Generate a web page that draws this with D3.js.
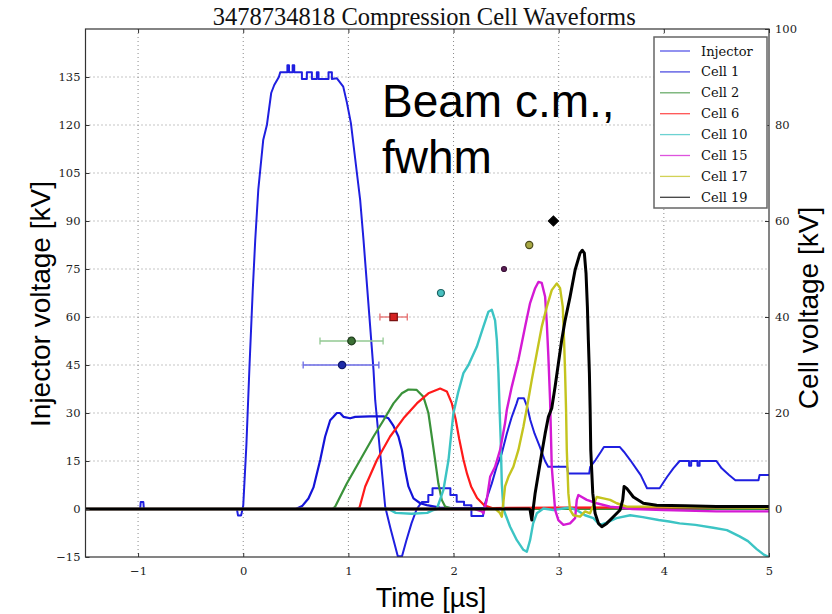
<!DOCTYPE html>
<html>
<head>
<meta charset="utf-8">
<script src="https://cdn.jsdelivr.net/npm/d3@7"></script>
<style>
    body { margin: 0; background: #fff; }
</style>
</head>
<body>
<svg id="chart" width="832" height="614"></svg>
<script>
// time in us, injector in kV (left axis), cells in kV (right axis)
const injector = [
    [-1.5, 0], [-0.98, 0], [-0.975, 2.2], [-0.95, 2.2], [-0.945, 0],
    [-0.06, 0], [-0.05, -2], [-0.02, -2], [0.0, 1], [0.03, 20], [0.06, 45], [0.09, 68], [0.114, 84],
    [0.143, 99.7], [0.19, 115.3], [0.225, 120], [0.266, 130], [0.295, 132.5], [0.339, 135], [0.352, 136.5],
    [0.42, 136.5], [0.42, 138.7], [0.435, 138.7], [0.435, 136.5], [0.47, 136.5], [0.47, 138.7], [0.485, 138.7], [0.485, 136.5],
    [0.558, 136.5], [0.558, 134.4], [0.605, 134.4], [0.605, 136.5], [0.653, 136.5], [0.653, 134.4], [0.70, 134.4], [0.70, 136.5],
    [0.716, 136.5], [0.716, 134.4], [0.811, 134.4], [0.811, 136.5], [0.843, 136.5], [0.843, 134.4], [0.891, 134.6],
    [0.951, 132], [0.986, 127], [1.024, 120.6], [1.081, 105], [1.112, 96.6], [1.144, 84], [1.239, 43.4], [1.255, 34], [1.35, 0.7],
    [1.40, -6], [1.44, -11], [1.47, -14.8], [1.51, -14.8], [1.55, -10], [1.60, -4.5], [1.65, 0],
    [1.70, 2.2], [1.76, 2.2], [1.76, 4.4], [1.80, 4.4], [1.80, 6.5], [1.97, 6.5], [1.97, 4.4], [2.03, 4.4], [2.03, 2.3],
    [2.10, 2.3], [2.10, 1.2], [2.17, 1.2], [2.17, -2.2], [2.28, -2.2], [2.30, 1.8], [2.364, 8], [2.41, 13.2], [2.459, 17.4],
    [2.507, 23.6], [2.554, 28.8], [2.60, 33], [2.615, 34.6], [2.67, 34.6], [2.70, 32], [2.73, 27.8], [2.77, 23.6], [2.82, 19.5],
    [2.87, 15], [2.90, 13.2], [3.08, 13.2], [3.09, 11.1], [3.29, 11.1], [3.30, 13.2], [3.35, 15.3], [3.40, 17.8], [3.43, 19.4],
    [3.58, 19.4], [3.62, 17.9], [3.68, 15.3], [3.75, 12], [3.78, 10.6], [3.84, 6.5], [3.96, 6.5], [4.00, 8.5], [4.03, 10],
    [4.09, 12.7], [4.15, 15], [4.24, 15], [4.24, 13.5], [4.26, 13.5], [4.26, 15], [4.32, 15], [4.32, 13.5], [4.34, 13.5],
    [4.34, 15], [4.50, 15], [4.55, 12.7], [4.62, 10.6], [4.68, 9], [4.90, 9], [4.91, 10.6], [5.0, 10.6]
];

const cell1 = [
    [-1.5, 0], [0.50, 0], [0.56, 0.6], [0.62, 2.2], [0.668, 4.5], [0.732, 10.2], [0.779, 15.1], [0.827, 18.5], [0.858, 19.2],
    [0.89, 20], [0.92, 20], [0.953, 19.2], [1.017, 18.9], [1.065, 19.2], [1.207, 19.3], [1.334, 19.3], [1.381, 18.9],
    [1.429, 17.3], [1.476, 15.1], [1.509, 12.3], [1.54, 8.1], [1.571, 4.7], [1.619, 2.2], [1.683, 1.2], [1.746, 0.8],
    [1.87, 0.3], [2.0, 0.2], [5.0, 0.1]
];

const cell2 = [
    [-1.5, 0], [0.85, 0], [0.875, 0.5], [0.985, 5.3], [1.112, 10.2], [1.239, 15.1], [1.334, 18.5], [1.429, 22],
    [1.509, 24.1], [1.571, 24.9], [1.65, 24.8], [1.713, 23.4], [1.761, 20], [1.793, 15.1], [1.825, 10.2], [1.856, 5.3],
    [1.888, 1.9], [1.92, 0.5], [2.0, 0], [5.0, 0]
];

const cell6 = [
    [-1.5, 0], [1.08, 0], [1.106, 0.3], [1.16, 4.7], [1.271, 10.2], [1.397, 15.1], [1.524, 18.9], [1.651, 22],
    [1.761, 24.1], [1.873, 25.1], [1.936, 24.5], [1.984, 22], [2.02, 18.7], [2.053, 14.7], [2.094, 10.3], [2.129, 7.3],
    [2.167, 4.7], [2.224, 2.3], [2.291, 0.8], [2.367, 0.2], [3.0, 0.3], [5.0, 0.4]
];

const cell10 = [
    [-1.5, 0], [1.38, 0], [1.45, -0.8], [1.6, -1], [1.75, -0.8], [1.80, -0.3], [1.841, 0], [1.904, 4], [1.952, 10.2],
    [1.999, 20], [2.044, 24.3], [2.094, 28.3], [2.142, 30], [2.221, 33.8], [2.284, 38], [2.332, 41.1], [2.364, 41.5],
    [2.395, 39.3], [2.412, 35.2], [2.427, 28.3], [2.438, 20.7], [2.448, 14.7], [2.459, 5.3], [2.474, 0], [2.538, -3.7],
    [2.602, -6.5], [2.664, -8.5], [2.697, -8.9], [2.728, -6.5], [2.757, -3], [2.792, -0.9], [2.855, 0.1], [2.95, -0.2],
    [3.10, 0.3], [3.17, -0.2], [3.25, -1.3], [3.33, -1.9], [3.39, -3.3], [3.45, -2.9], [3.55, -1.9], [3.68, -1.3],
    [3.80, -1.7], [3.95, -2.3], [4.05, -2.6], [4.15, -3], [4.30, -3.3], [4.47, -3.9], [4.60, -4.4], [4.72, -5.7],
    [4.80, -6.7], [4.88, -8.3], [4.95, -9.5], [5.0, -10]
];

const cell15 = [
    [-1.5, 0], [2.20, 0], [2.27, -0.5], [2.284, -0.9], [2.316, 1.9], [2.348, 6.7], [2.395, 8.8], [2.443, 12.3],
    [2.49, 17.9], [2.507, 20.7], [2.554, 25.5], [2.617, 31.1], [2.681, 38], [2.728, 42.9], [2.776, 46], [2.807, 47.3],
    [2.839, 47.1], [2.871, 44.2], [2.887, 38.7], [2.902, 31.7], [2.918, 22.7], [2.934, 8.8], [2.966, -0.2], [2.997, -2.3],
    [3.045, -3.3], [3.108, -3], [3.156, -1.9], [3.172, 1.9], [3.187, 2.9], [3.267, 1.9], [3.362, 1.2], [3.489, 0.5],
    [3.7, 0], [4.0, -0.2], [4.5, -0.5], [5.0, -0.5]
];

const cell17 = [
    [-1.5, 0], [2.40, 0], [2.44, -0.8], [2.459, -1.6], [2.49, 4.7], [2.522, 6.7], [2.569, 8.8], [2.617, 12.3],
    [2.664, 17.1], [2.697, 21], [2.744, 26.9], [2.792, 32.5], [2.839, 38], [2.887, 42.1], [2.934, 45.6], [2.982, 47],
    [3.013, 46], [3.039, 42.1], [3.051, 35.2], [3.061, 28.3], [3.07, 20.7], [3.077, 12.3], [3.092, 3.3], [3.108, -0.2],
    [3.14, -1.3], [3.203, -1.6], [3.251, -0.5], [3.298, -0.9], [3.362, 2.5], [3.425, 2.2], [3.489, 1.9], [3.552, 1.2],
    [3.647, 0.5], [4.0, 0.5], [5.0, 0.3]
];

const cell19 = [
    [-1.5, 0], [2.72, 0], [2.728, -0.2], [2.744, -2.3], [2.776, 3.3], [2.807, 7.4], [2.839, 11.6], [2.871, 15.7],
    [2.902, 19.2], [2.934, 21], [2.966, 25.5], [2.997, 30.3], [3.029, 35.2], [3.061, 39.3], [3.108, 44.2], [3.156, 49.8],
    [3.203, 53.3], [3.225, 53.9], [3.244, 53.3], [3.26, 49.1], [3.273, 42.1], [3.282, 35.2], [3.292, 28.3], [3.299, 20.7],
    [3.305, 12.3], [3.324, 3.3], [3.346, -0.9], [3.378, -3], [3.41, -3.7], [3.457, -3], [3.52, -1.6], [3.584, -0.2],
    [3.609, 1.9], [3.622, 4.7], [3.647, 4.3], [3.71, 2.5], [3.805, 1.2], [3.932, 0.8], [4.2, 0.7], [4.5, 0.5], [5.0, 0.5]
];

// beam centre of mass and fwhm (left axis level)
const beamNames = ["Cell 1", "Cell 2", "Cell 6", "Cell 10", "Cell 15", "Cell 17", "Cell 19"];
const beamCM = [0.94, 1.03, 1.43, 1.88, 2.48, 2.72, 2.95];
const beamLo = [0.57, 0.73, 1.30, 1.88, 2.48, 2.72, 2.95];
const beamHi = [1.29, 1.33, 1.56, 1.88, 2.48, 2.72, 2.95];
const beamLevel = [45, 52.5, 60, 67.5, 75, 82.5, 90];

const xTicks = [-1, 0, 1, 2, 3, 4, 5];
const leftTicks = [-15, 0, 15, 30, 45, 60, 75, 90, 105, 120, 135];
const rightTicks = [0, 20, 40, 60, 80, 100];

const series = [
    { name: "Injector", data: injector, color: "#1f1fe0", width: 2, axis: "left" },
    { name: "Cell 1", data: cell1, color: "#1414d8", width: 2.2, axis: "right" },
    { name: "Cell 2", data: cell2, color: "#3a923a", width: 2.2, axis: "right" },
    { name: "Cell 6", data: cell6, color: "#ff1a1a", width: 2.2, axis: "right" },
    { name: "Cell 10", data: cell10, color: "#3cc4c4", width: 2.4, axis: "right" },
    { name: "Cell 15", data: cell15, color: "#d41ad4", width: 2.4, axis: "right" },
    { name: "Cell 17", data: cell17, color: "#c4c41e", width: 2.4, axis: "right" },
    { name: "Cell 19", data: cell19, color: "#000000", width: 3, axis: "right" }
];

const markerStyle = [
    { shape: d3.symbolCircle, size: 42, fill: "#1c2aa8", stroke: "#10186a", bar: "#6a6ae6" },
    { shape: d3.symbolCircle, size: 45, fill: "#3b6f34", stroke: "#1f3d1c", bar: "#92c892" },
    { shape: d3.symbolSquare, size: 55, fill: "#d42020", stroke: "#7a1010", bar: "#e87070" },
    { shape: d3.symbolCircle, size: 38, fill: "#48c0c0", stroke: "#1d6262", bar: "#80d0d0" },
    { shape: d3.symbolCircle, size: 20, fill: "#5c2058", stroke: "#3a1036", bar: "#d080d0" },
    { shape: d3.symbolCircle, size: 40, fill: "#a8a844", stroke: "#4a4a1a", bar: "#d0d080" },
    { shape: d3.symbolSquare, size: 50, fill: "#000000", stroke: "#000000", bar: "#555", rotate: 45 }
];

const svg = d3.select("#chart");
const plotLeft = 85.5, plotRight = 769, plotTop = 29, plotBottom = 557;

const x = d3.scaleLinear().domain([-1.5, 5]).range([plotLeft, plotRight]);
const yL = d3.scaleLinear().domain([-15, 150]).range([plotBottom, plotTop]);
const yR = d3.scaleLinear().domain([-10, 100]).range([plotBottom, plotTop]);

svg.append("defs").append("clipPath").attr("id", "plotclip")
    .append("rect")
    .attr("x", plotLeft).attr("y", plotTop)
    .attr("width", plotRight - plotLeft).attr("height", plotBottom - plotTop);

// Title
svg.append("text")
    .attr("x", (plotLeft + plotRight) / 2 - 3)
    .attr("y", 25)
    .attr("text-anchor", "middle")
    .style("font-family", "'Liberation Serif', serif")
    .style("font-size", "24.5px")
    .style("fill", "#111")
    .text("3478734818 Compression Cell Waveforms");

// Grid
const grid = svg.append("g").attr("stroke", "#8a8a8a").attr("stroke-width", 1).attr("stroke-dasharray", "1,3");
grid.selectAll(".gx").data(xTicks.filter(t => t < 5)).enter().append("line")
    .attr("x1", d => x(d)).attr("x2", d => x(d))
    .attr("y1", plotTop).attr("y2", plotBottom);
grid.selectAll(".gy").data(leftTicks.filter(t => t > -15)).enter().append("line")
    .attr("x1", plotLeft).attr("x2", plotRight)
    .attr("y1", d => yL(d)).attr("y2", d => yL(d));

// Waveforms
const plot = svg.append("g").attr("clip-path", "url(#plotclip)");
series.forEach(s => {
    const yScale = s.axis === "left" ? yL : yR;
    plot.append("path")
        .datum(s.data)
        .attr("fill", "none")
        .attr("stroke", s.color)
        .attr("stroke-width", s.width)
        .attr("stroke-linejoin", "round")
        .attr("d", d3.line().x(d => x(d[0])).y(d => yScale(d[1])));
});

// Beam c.m. markers with fwhm bars
const beam = plot.selectAll(".beam")
    .data(beamCM.map((c, i) => ({ name: beamNames[i], cm: c, lo: beamLo[i], hi: beamHi[i], lev: beamLevel[i], st: markerStyle[i] })))
    .enter().append("g")
    .attr("class", "beam");

beam.filter(d => d.hi > d.lo).append("line")
    .attr("x1", d => x(d.lo)).attr("x2", d => x(d.hi))
    .attr("y1", d => yL(d.lev)).attr("y2", d => yL(d.lev))
    .attr("stroke", d => d.st.bar).attr("stroke-width", 1.3);
beam.filter(d => d.hi > d.lo).selectAll(".cap")
    .data(d => [d.lo, d.hi].map(v => ({ v: v, lev: d.lev, st: d.st })))
    .enter().append("line")
    .attr("x1", d => x(d.v)).attr("x2", d => x(d.v))
    .attr("y1", d => yL(d.lev) - 3.5).attr("y2", d => yL(d.lev) + 3.5)
    .attr("stroke", d => d.st.bar).attr("stroke-width", 1.3);
beam.append("path")
    .attr("transform", d => `translate(${x(d.cm)},${yL(d.lev)}) rotate(${d.st.rotate || 0})`)
    .attr("d", d => d3.symbol().type(d.st.shape).size(d.st.size)())
    .attr("fill", d => d.st.fill)
    .attr("stroke", d => d.st.stroke)
    .attr("stroke-width", 1.2);

// Axes (ticks pointing inward)
const fmt = d3.format("d");
svg.append("g")
    .attr("transform", `translate(0,${plotBottom})`)
    .call(d3.axisBottom(x).tickValues(xTicks).tickFormat(fmt).tickSize(-4).tickPadding(10))
    .call(g => g.select(".domain").remove());
svg.append("g")
    .attr("transform", `translate(0,${plotTop})`)
    .call(d3.axisTop(x).tickValues(xTicks).tickFormat("").tickSize(-4))
    .call(g => g.select(".domain").remove());
svg.append("g")
    .attr("transform", `translate(${plotLeft},0)`)
    .call(d3.axisLeft(yL).tickValues(leftTicks).tickFormat(fmt).tickSize(-4).tickPadding(5))
    .call(g => g.select(".domain").remove());
svg.append("g")
    .attr("transform", `translate(${plotRight},0)`)
    .call(d3.axisRight(yR).tickValues(rightTicks).tickFormat(fmt).tickSize(-4).tickPadding(6))
    .call(g => g.select(".domain").remove());
svg.selectAll(".tick line").attr("stroke", "#333");
svg.selectAll(".tick text")
    .attr("font-family", "'DejaVu Serif', serif")
    .attr("font-size", 11.5)
    .attr("fill", "#222");

svg.append("rect")
    .attr("x", plotLeft).attr("y", plotTop)
    .attr("width", plotRight - plotLeft).attr("height", plotBottom - plotTop)
    .attr("fill", "none").attr("stroke", "#333").attr("stroke-width", 1.2);

// Axis labels
const labelFont = "'Liberation Sans', Arial, sans-serif";
svg.append("text")
    .attr("transform", "translate(40,304) rotate(-90)")
    .attr("dy", "0.35em")
    .attr("text-anchor", "middle")
    .style("font-family", labelFont).style("font-size", "28px")
    .text("Injector voltage [kV]");
svg.append("text")
    .attr("transform", "translate(808,308) rotate(-90)")
    .attr("dy", "0.35em")
    .attr("text-anchor", "middle")
    .style("font-family", labelFont).style("font-size", "28px")
    .text("Cell voltage [kV]");
svg.append("text")
    .attr("x", 431).attr("y", 607)
    .attr("text-anchor", "middle")
    .style("font-family", labelFont).style("font-size", "27px")
    .text("Time [µs]");

// Annotation
const note = svg.append("text")
    .style("font-family", labelFont).style("font-size", "46px").style("fill", "#000");
note.append("tspan").attr("x", 382).attr("y", 117).text("Beam c.m.,");
note.append("tspan").attr("x", 382).attr("y", 173).text("fwhm");

// Legend
const legend = svg.append("g").attr("transform", "translate(654,37)");
legend.append("rect")
    .attr("width", 113).attr("height", 171)
    .attr("fill", "#fff").attr("stroke", "#666").attr("stroke-width", 1.5);
const item = legend.selectAll(".item")
    .data(series)
    .enter().append("g")
    .attr("class", "item")
    .attr("transform", (d, i) => `translate(0,${14 + i * 20.9})`);
item.append("line")
    .attr("x1", 6).attr("x2", 36)
    .attr("stroke", d => d.color).attr("stroke-width", 1.3).attr("opacity", 0.75);
item.append("text")
    .attr("x", 47).attr("dy", "0.35em")
    .style("font-family", "'DejaVu Serif', serif").style("font-size", "13px").style("fill", "#111")
    .text(d => d.name);
</script>
</body>
</html>
